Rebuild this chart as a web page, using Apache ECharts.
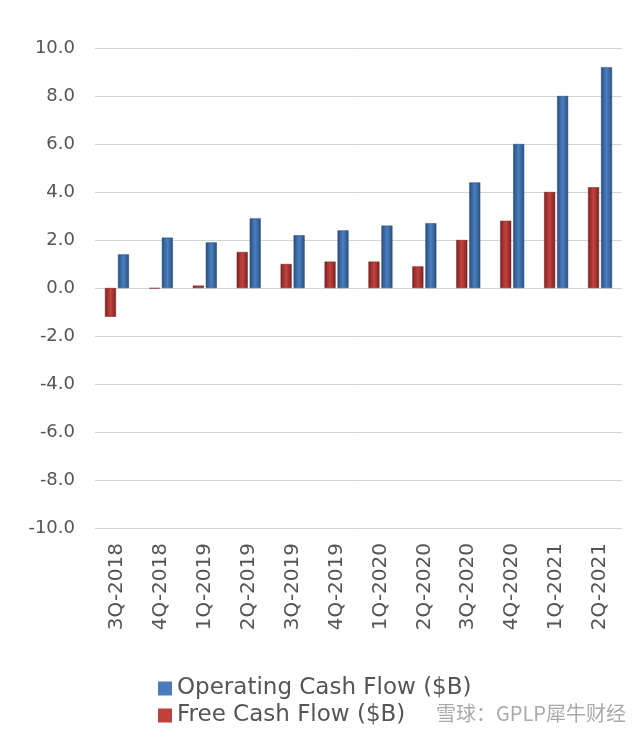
<!DOCTYPE html>
<html>
<head>
<meta charset="utf-8">
<script src="https://cdn.jsdelivr.net/npm/echarts@6/dist/echarts.min.js"></script>
<style>html,body{margin:0;padding:0;background:#fff;}#c{width:641px;height:735px;}</style>
</head>
<body>
<div id="c"></div>
<script>
const categories = ['3Q-2018','4Q-2018','1Q-2019','2Q-2019','3Q-2019','4Q-2019','1Q-2020','2Q-2020','3Q-2020','4Q-2020','1Q-2021','2Q-2021'];
const operatingCashFlow = [1.4, 2.1, 1.9, 2.9, 2.2, 2.4, 2.6, 2.7, 4.4, 6.0, 8.0, 9.2];
const freeCashFlow = [-1.2, -0.02, 0.1, 1.5, 1.0, 1.1, 1.1, 0.9, 2.0, 2.8, 4.0, 4.2];
const seriesNames = ['Operating Cash Flow ($B)', 'Free Cash Flow ($B)'];

const font = '"DejaVu Sans", sans-serif';
function grad(edge, mid) {
  return new echarts.graphic.LinearGradient(0, 0, 1, 0, [
    {offset: 0, color: edge}, {offset: 0.5, color: mid}, {offset: 1, color: edge}
  ]);
}
const chart = echarts.init(document.getElementById('c'));
chart.setOption({
  animation: false,
  grid: {left: 95, right: 19, top: 48, bottom: 207, outerBoundsMode: 'none', containLabel: false},
  legend: {
    orient: 'vertical', left: 153, top: 672,
    data: [
      {name: seriesNames[0], itemStyle: {color: '#4a7bbd', borderWidth: 0}},
      {name: seriesNames[1], itemStyle: {color: '#c0403c', borderWidth: 0}}
    ],
    icon: 'rect', itemWidth: 14, itemHeight: 14, itemGap: 4,
    textStyle: {fontSize: 23, color: '#555', fontFamily: font}
  },
  xAxis: {
    type: 'category', data: categories,
    axisLine: {show: false, onZero: false}, axisTick: {show: false},
    axisLabel: {rotate: 90, margin: 15, fontSize: 20, color: '#555', fontFamily: font, interval: 0}
  },
  yAxis: {
    type: 'value', min: -10, max: 10, interval: 2,
    axisLine: {show: false}, axisTick: {show: false},
    splitLine: {lineStyle: {color: '#d4d4d4', width: 1}},
    axisLabel: {margin: 20, fontSize: 18, color: '#555', fontFamily: font, formatter: v => v.toFixed(1)}
  },
  graphic: [{
    type: 'text', left: 436, top: 703,
    style: {text: '雪球：GPLP犀牛财经', fontSize: 20, fill: '#aaa', fontFamily: '"Noto Sans CJK SC", sans-serif'}
  }],
  series: [
    {
      name: seriesNames[1], type: 'bar', data: freeCashFlow, barWidth: 11, barGap: '18%',
      itemStyle: {color: grad('#7e2222', '#c4423d'), borderColor: '#6a1d1d', borderWidth: 0.5}
    },
    {
      name: seriesNames[0], type: 'bar', data: operatingCashFlow, barWidth: 11, barGap: '18%',
      itemStyle: {color: grad('#2b4f7d', '#4a7fc2'), borderColor: '#25466f', borderWidth: 0.5}
    }
  ]
});
</script>
</body>
</html>
